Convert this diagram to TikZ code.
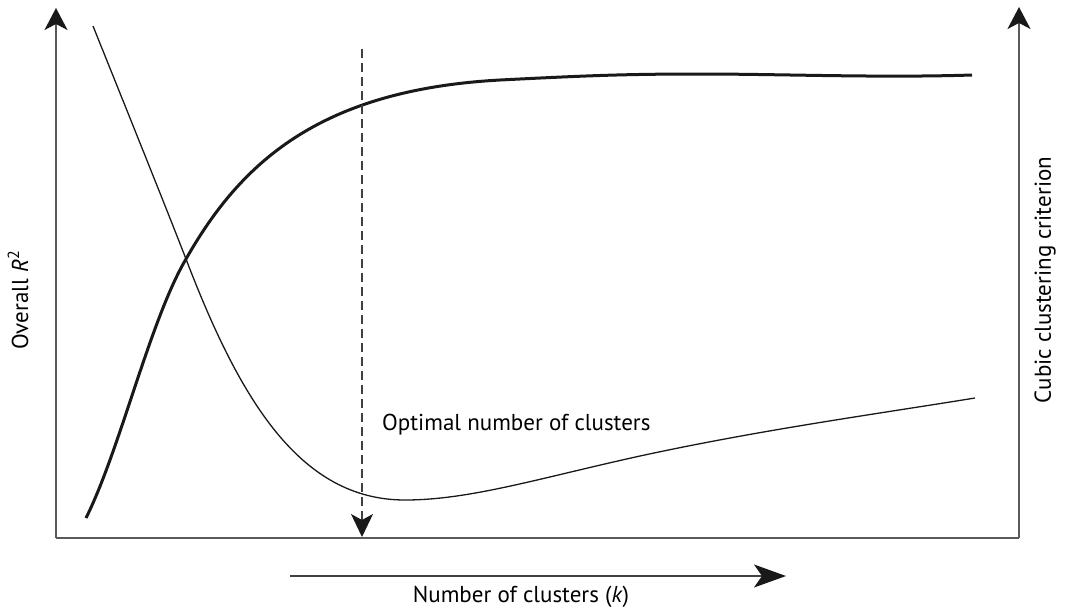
\documentclass[tikz,border=0pt]{standalone}
\usepackage{fontspec}
\setmainfont{PT Sans}
\usetikzlibrary{arrows.meta}

\tikzset{
  axisline/.style={line width=1.8pt, black!65, -{Stealth[length=22pt, width=23pt, inset=6pt, black!90]}},
  lbl/.style={font=\fontsize{23}{26}\selectfont, inner sep=0pt, text=black}
}

\begin{document}
\begin{tikzpicture}[x=1pt, y=-1pt]
        \useasboundingbox (0,0) rectangle (1068,608);
        \coordinate (o) at (56,538);
        \coordinate (ytop) at (56,8);
        \coordinate (r_o) at (1019,538);
        \coordinate (r_top) at (1019,7);

        % axes
        \draw [line width=1.8pt, black!65] (o) -- (r_o);
        \draw [axisline] (o) -- (ytop);
        \draw [axisline] (r_o) -- (r_top);

        % overall R^2
        \draw [line width=3pt, black!90] (86,518) .. controls (120,450) and (150,320) .. (186,259)
          .. controls (240,164) and (318,90) .. (500,80)
          .. controls (580,76) and (620,74) .. (700,74)
          .. controls (780,74) and (880,78) .. (972,75);
        % cubic clustering criterion
        \draw [line width=1.3pt, black!90] (93,26) .. controls (130,118) and (165,205) .. (186,259)
          .. controls (240,400) and (300,500) .. (405,500)
          .. controls (470,500) and (540,478) .. (640,456)
          .. controls (760,430) and (870,415) .. (975,398);

        % optimum
        \coordinate (opt_top) at (362,49);
        \coordinate (opt_bot) at (362,537);
        \draw [line width=1.3pt, black!75, dash pattern=on 9pt off 5pt,
               -{Stealth[length=23pt, width=22pt, inset=6pt, black!90]}] (opt_top) -- (opt_bot);
        \node[lbl, anchor=west] at (382,425) (opt) {Optimal number of clusters};

        % x label
        \coordinate (k_start) at (290,576);
        \coordinate (k_end) at (786,576);
        \draw [line width=1.3pt, black!75, -{Stealth[length=32pt, width=23pt, inset=8pt, black!90]}] (k_start) -- (k_end);
        \node[lbl] at (521,597) (xlab) {Number of clusters (\textit{k})};

        % y labels
        \node[lbl, rotate=90] at (18,300) (ylab) {Overall \textit{R}\textsuperscript{2}};
        \node[lbl, rotate=90] at (1045,280) (ccc) {Cubic clustering criterion};
\end{tikzpicture}
\end{document}
